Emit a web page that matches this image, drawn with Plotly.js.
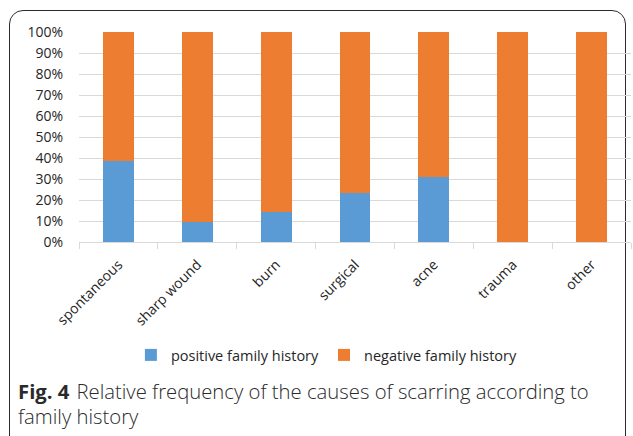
<!DOCTYPE html>
<html>
<head>
<meta charset="utf-8">
<script src="https://cdn.plot.ly/plotly-3.0.1.min.js"></script>
<style>
html,body{margin:0;padding:0;background:#fff;}
#wrap{position:relative;width:633px;height:436px;overflow:hidden;}
#frame{position:absolute;left:9px;top:10px;width:617px;height:440px;border:1.5px solid #2b2b2b;border-radius:14px;box-sizing:border-box;}
#chart{position:absolute;left:0;top:0;width:633px;height:436px;}
.captxt{position:absolute;font-family:"Open Sans",sans-serif;font-size:20.3px;line-height:21px;color:#2a2a2a;white-space:nowrap;font-weight:300;}
#fig{left:18px;top:381px;font-weight:700;}
#cap1{top:381px;}
#cap2{left:18px;top:406px;}
</style>
</head>
<body>
<div id="wrap">
<div id="frame"></div>
<div id="chart"></div>
<div id="fig" class="captxt">Fig. 4</div>
<div id="cap1" class="captxt">Relative frequency of the causes of scarring according to</div>
<div id="cap2" class="captxt">family history</div>
</div>
<script>
var figEl = document.getElementById("fig");
document.getElementById("cap1").style.left = (18 + figEl.getBoundingClientRect().width + 7) + "px";

var categories = ["spontaneous","sharp wound","burn","surgical","acne","trauma","other"];
var positive = [0.385, 0.095, 0.143, 0.235, 0.308, 0, 0];
var negative = positive.map(function(v){return 1 - v;});
var seriesNames = ["positive family history","negative family history"];
var colors = ["#5B9BD5","#ED7D31"];

var traces = [
  {type:"bar", x:categories, y:positive, name:seriesNames[0], marker:{color:colors[0]}},
  {type:"bar", x:categories, y:negative, name:seriesNames[1], marker:{color:colors[1]}}
];
var layout = {
  width:633, height:436,
  margin:{l:79, r:2, t:32, b:194},
  paper_bgcolor:"rgba(0,0,0,0)", plot_bgcolor:"rgba(0,0,0,0)",
  barmode:"stack", bargap:0.61,
  font:{family:"Open Sans, sans-serif", color:"#262626"},
  xaxis:{tickangle:-45, tickfont:{size:14, color:"#262626"}, showgrid:false,
         showline:true, linecolor:"#d9d9d9", linewidth:1,
         ticks:"outside", tickson:"boundaries", ticklen:6, tickcolor:"#d9d9d9", ticklabelstandoff:8},
  yaxis:{range:[0,1], tickformat:".0%", dtick:0.1, tickfont:{size:14, color:"#262626"},
         showgrid:true, gridcolor:"#d9d9d9", gridwidth:1, zeroline:false, ticks:"", ticklabelstandoff:15},
  showlegend:true,
  legend:{orientation:"h", x:0.094, xanchor:"left", y:-0.538, yanchor:"middle",
          font:{size:14.5, color:"#262626"}, itemwidth:30, traceorder:"normal"}
};
Plotly.newPlot("chart", traces, layout, {displayModeBar:false, staticPlot:true});
</script>
</body>
</html>
